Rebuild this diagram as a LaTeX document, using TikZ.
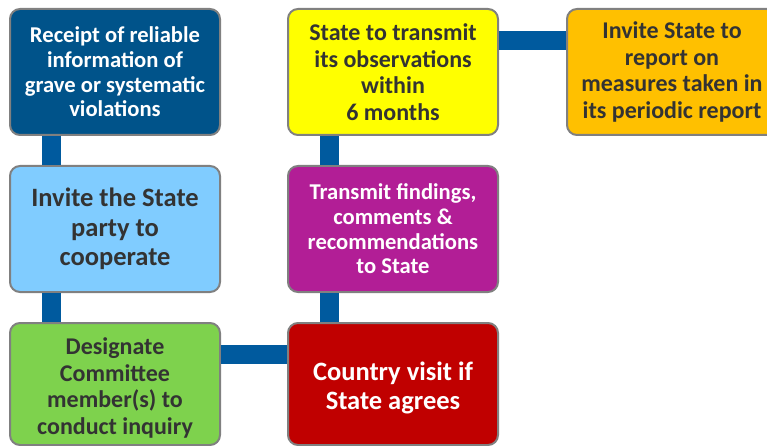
\documentclass[tikz,border=0pt]{standalone}
\usepackage{fontspec}
\setmainfont{Carlito}
\definecolor{cdblue}{HTML}{00538A}
\definecolor{cconn}{HTML}{005A9E}
\definecolor{clblue}{HTML}{80CCFF}
\definecolor{cgreen}{HTML}{7ED24D}
\definecolor{cred}{HTML}{C00000}
\definecolor{cmag}{HTML}{B21E96}
\definecolor{cyel}{HTML}{FFFF00}
\definecolor{corange}{HTML}{FFC000}
\definecolor{cborder}{HTML}{808080}
\definecolor{ctext}{HTML}{333333}
\begin{document}
\begin{tikzpicture}[x=1pt,y=-1pt,
  box/.style={draw=cborder,line width=2pt,rounded corners=10pt,
    minimum width=210pt,minimum height=126pt,align=center,inner sep=2pt,
    font=\bfseries},
  txt/.style={align=center,inner sep=0pt},
  conn/.style={draw=cconn,line width=19pt},
  fsa/.style={font=\fontsize{22.6}{24.6}\selectfont\bfseries},
  fsb/.style={font=\fontsize{24}{26.5}\selectfont\bfseries},
  fsbb/.style={font=\fontsize{24}{26.7}\selectfont\bfseries},
  fsc/.style={font=\fontsize{26.5}{29.5}\selectfont\bfseries}]
\useasboundingbox (0,0) rectangle (767,446);
\clip (0,0) rectangle (767,446);
\node[box,fill=cdblue,text=white,fsa] (b1) at (115,72)
  {Receipt of reliable\\information of\\grave or systematic\\violations};
\node[box,fill=clblue,text=ctext,fsc] (b2) at (115,229)
  {Invite the State\\party to\\cooperate};
\node[box,fill=cgreen,minimum height=122pt] (b3) at (115,384) {};
\node[txt,text=ctext,fsbb] (b3t) at (115,388)
  {Designate\\Committee\\member(s) to\\conduct inquiry};
\node[box,fill=cred,minimum height=122pt] (b4) at (393,384) {};
\node[txt,text=white,fsc] (b4t) at (393,388)
  {Country visit if\\State agrees};
\node[box,fill=cmag,text=white,fsa] (b5) at (393,229)
  {Transmit findings,\\comments \&\\recommendations\\to State};
\node[box,fill=cyel,text=ctext,fsb] (b6) at (393,72)
  {State to transmit\\its observations\\within\\6 months};
\node[box,fill=corange,text=ctext,fsb] (b7) at (672,72)
  {Invite State to\\report on\\measures taken in\\its periodic report};
\draw[conn] ([xshift=42.5pt]b1.south west) -- ([xshift=42.5pt]b2.north west);
\draw[conn] ([xshift=42.5pt]b2.south west) -- ([xshift=42.5pt]b3.north west);
\draw[conn] ([yshift=30pt]b3.east) -- ([yshift=30pt]b4.west);
\draw[conn] ([xshift=42.5pt]b4.north west) -- ([xshift=42.5pt]b5.south west);
\draw[conn] ([xshift=42.5pt]b5.north west) -- ([xshift=42.5pt]b6.south west);
\draw[conn] ([yshift=31.5pt]b6.east) -- ([yshift=31.5pt]b7.west);
\end{tikzpicture}
\end{document}
